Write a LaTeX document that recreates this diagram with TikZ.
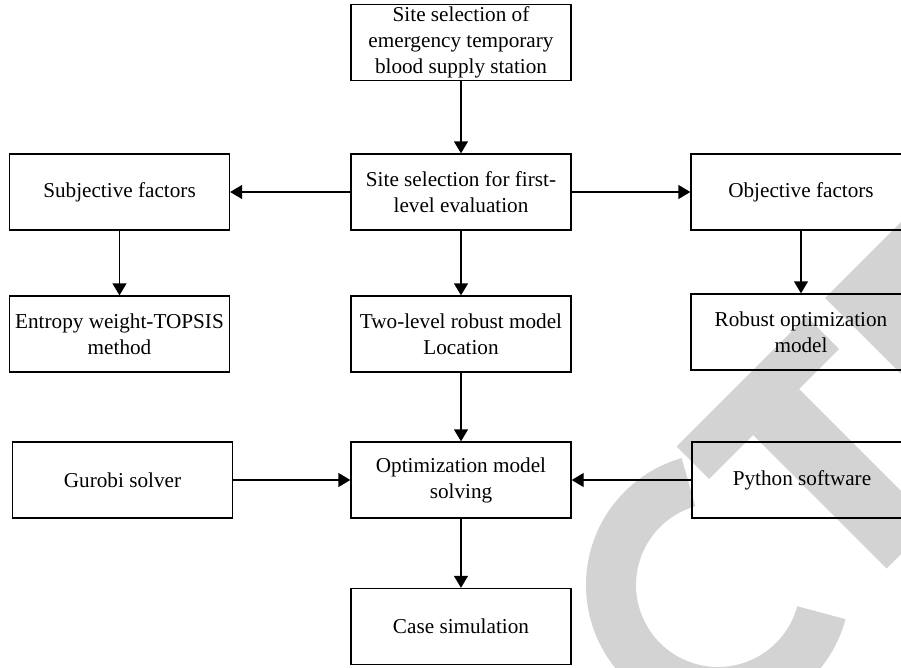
\documentclass[tikz,border=0pt]{standalone}
\usepackage{fontspec}
\setmainfont{Liberation Serif}
\usetikzlibrary{arrows.meta,calc}
\definecolor{wmgray}{RGB}{211,211,211}
\begin{document}
\begin{tikzpicture}[x=1pt,y=-1pt,>={Triangle[length=12pt,width=14pt]},
	box/.style={draw,line width=1.4pt,minimum width=220pt,minimum height=76pt,align=center,inner sep=2pt,font=\fontsize{21.2}{26}\selectfont},
	link/.style={->,line width=1.4pt}]
	\useasboundingbox (0,0) rectangle (901,667);
	\clip (0,0) rectangle (901,667);
	% watermark in the back
	\fill[wmgray] (718,585) ++(-106:132) arc[start angle=-106,end angle=-345,radius=132] -- ($(718,585)+(-345:82)$) arc[start angle=-345,end angle=-106,radius=82] -- cycle;
	\fill[wmgray] (676.5,446.5) -- (806.5,316.5) -- (839,349) -- (709,479) -- cycle;
	\fill[wmgray] (753,435) -- (799,389) -- (932.5,522.5) -- (886.5,568.5) -- cycle;
	\fill[wmgray] (825,298) -- (961.5,161.5) -- (994,194) -- (902.5,285.5) -- (1036,419) -- (991,464) -- cycle;
	% boxes
	\node[box] (site) at (461,42.5) {Site selection of\\emergency temporary\\blood supply station};
	\node[box] (first) at (461,192) {Site selection for first-\\level evaluation};
	\node[box] (subj) at (119.5,192) {Subjective factors};
	\node[box] (obj) at (801,192) {Objective factors};
	\node[box] (topsis) at (119.5,334) {Entropy weight-TOPSIS\\method};
	\node[box] (twolev) at (461,334) {Two-level robust model\\Location};
	\node[box] (robust) at (801,332) {Robust optimization\\model};
	\node[box] (gurobi) at (122.5,480) {Gurobi solver};
	\node[box] (solve) at (461,480) {Optimization model\\solving};
	\node[box] (python) at (802,480) {Python software};
	\node[box] (case) at (461,626.5) {Case simulation};
	% arrows
	\draw[link] (site) -- (first);
	\draw[link] (first) -- (subj);
	\draw[link] (first) -- (obj);
	\draw[link] (subj) -- (topsis);
	\draw[link] (first) -- (twolev);
	\draw[link] (obj) -- (robust);
	\draw[link] (twolev) -- (solve);
	\draw[link] (gurobi) -- (solve);
	\draw[link] (python) -- (solve);
	\draw[link] (solve) -- (case);
\end{tikzpicture}
\end{document}
